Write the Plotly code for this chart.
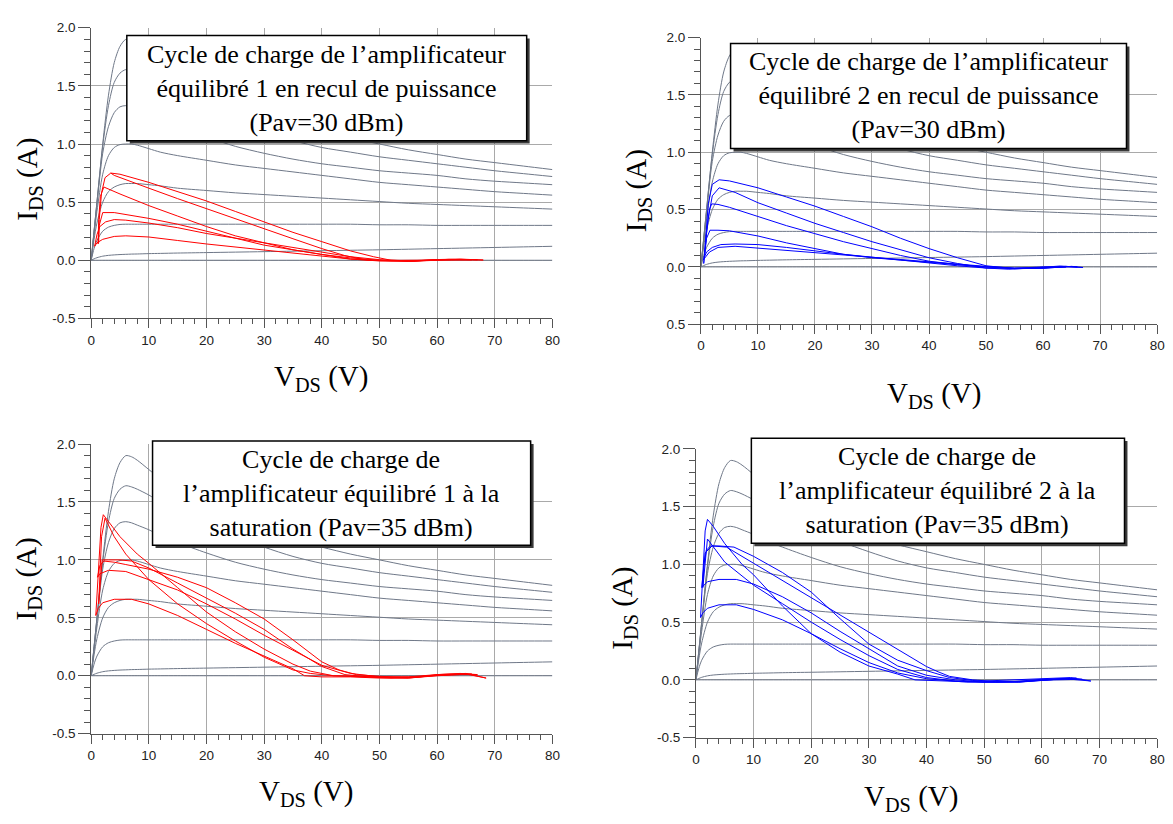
import plotly.graph_objects as go

W, H = 1173, 824
OFF = 8  # default page body margin of the html output

# ---------------- data ----------------
x_ticks = [0, 10, 20, 30, 40, 50, 60, 70, 80]
x_ticktext = ["0", "10", "20", "30", "40", "50", "60", "70", "80"]
y_ticks = [-0.5, 0.0, 0.5, 1.0, 1.5, 2.0]
y_ticktext = ["-0.5", "0.0", "0.5", "1.0", "1.5", "2.0"]
y_ticktext_p2 = ["0.5", "0.0", "0.5", "1.0", "1.5", "2.0"]

# I-V network (gray curves), common to all panels
v_grid = [0, 0.5, 1, 2, 3, 4, 5, 6, 7, 8, 10, 12, 15, 20, 25, 30, 35, 40, 45, 50, 55, 60, 65, 70, 75, 80]
iv_c1 = [0, 0.25, 0.5, 1.0, 1.42, 1.70, 1.84, 1.90, 1.89, 1.86, 1.78, 1.70, 1.60, 1.46, 1.34, 1.24, 1.17, 1.11, 1.05, 1.00, 0.95, 0.91, 0.87, 0.84, 0.81, 0.78]
iv_c2 = [0, 0.25, 0.5, 0.98, 1.33, 1.53, 1.61, 1.64, 1.63, 1.61, 1.56, 1.50, 1.43, 1.31, 1.20, 1.11, 1.03, 0.97, 0.93, 0.89, 0.86, 0.83, 0.80, 0.77, 0.745, 0.72]
iv_c3 = [0, 0.24, 0.48, 0.92, 1.15, 1.27, 1.32, 1.33, 1.32, 1.30, 1.26, 1.21, 1.15, 1.06, 0.98, 0.92, 0.87, 0.83, 0.80, 0.77, 0.75, 0.73, 0.70, 0.68, 0.665, 0.65]
iv_c4 = [0, 0.22, 0.42, 0.74, 0.90, 0.97, 0.995, 1.0, 1.0, 0.99, 0.96, 0.93, 0.90, 0.86, 0.82, 0.79, 0.76, 0.73, 0.70, 0.67, 0.65, 0.63, 0.61, 0.59, 0.575, 0.56]
iv_c5 = [0, 0.18, 0.32, 0.50, 0.59, 0.63, 0.65, 0.66, 0.66, 0.66, 0.65, 0.64, 0.62, 0.60, 0.58, 0.565, 0.55, 0.535, 0.52, 0.505, 0.49, 0.48, 0.47, 0.46, 0.45, 0.44]
iv_c6 = [0, 0.10, 0.17, 0.25, 0.285, 0.30, 0.308, 0.31, 0.31, 0.31, 0.31, 0.31, 0.31, 0.31, 0.31, 0.31, 0.31, 0.31, 0.31, 0.305, 0.305, 0.30, 0.30, 0.30, 0.30, 0.30]
iv_c7 = [0, 0.012, 0.022, 0.035, 0.042, 0.046, 0.049, 0.051, 0.053, 0.054, 0.057, 0.059, 0.062, 0.066, 0.070, 0.074, 0.078, 0.082, 0.086, 0.090, 0.095, 0.100, 0.105, 0.110, 0.115, 0.12]
iv_c8 = [0] * 26

# Panel 1 : amplifier 1, Pav = 30 dBm (red)
p1_v1 = [1.3, 1.4, 1.8, 2.4, 3.4, 5, 10, 15, 20, 25, 30, 35, 40, 45, 49, 52, 56, 60, 64, 68, 64, 60, 56, 52, 48, 44, 40, 35, 30, 25, 20, 15, 10, 6, 4, 3.4]
p1_i1 = [0.15, 0.35, 0.58, 0.71, 0.75, 0.74, 0.67, 0.59, 0.51, 0.42, 0.33, 0.24, 0.16, 0.08, 0.03, 0.0, -0.008, 0.003, 0.008, 0.002, 0.01, 0.006, -0.006, -0.006, 0.0, 0.04, 0.10, 0.185, 0.27, 0.355, 0.44, 0.53, 0.62, 0.69, 0.73, 0.75]
p1_v2 = [1.2, 1.3, 1.6, 2.2, 5, 10, 15, 20, 25, 30, 35, 40, 45, 50, 55, 60, 65, 67, 62, 56, 50, 45, 40, 35, 30, 25, 20, 15, 10, 6, 4, 2, 1.4, 1.2]
p1_i2 = [0.14, 0.35, 0.55, 0.63, 0.57, 0.47, 0.38, 0.29, 0.21, 0.15, 0.09, 0.05, 0.02, 0.0, -0.01, 0.005, 0.008, 0.004, 0.008, -0.008, -0.006, 0.01, 0.05, 0.09, 0.13, 0.19, 0.25, 0.31, 0.36, 0.39, 0.41, 0.41, 0.30, 0.14]
p1_v3 = [0.6, 1.0, 1.5, 2.5, 4, 6, 10, 15, 20, 25, 30, 35, 40, 45, 50, 55, 60, 65, 66, 60, 55, 50, 45, 40, 35, 30, 25, 20, 15, 10, 6, 4, 2, 1, 0.6]
p1_i3 = [0.12, 0.22, 0.29, 0.33, 0.35, 0.345, 0.32, 0.28, 0.23, 0.19, 0.15, 0.11, 0.07, 0.03, 0.005, -0.005, 0.004, 0.006, 0.004, 0.002, -0.004, -0.002, 0.01, 0.035, 0.06, 0.085, 0.11, 0.14, 0.17, 0.20, 0.21, 0.205, 0.18, 0.15, 0.12]

# Panel 2 : amplifier 2, Pav = 30 dBm (blue)
p2_v1 = [0.5, 0.8, 1.3, 2.0, 3.2, 5, 10, 15, 20, 25, 30, 35, 40, 45, 50, 55, 60, 64, 67, 63, 58, 54, 50, 45, 40, 35, 30, 25, 20, 15, 10, 6, 3.2, 2.0, 1.2, 0.5]
p2_i1 = [0.03, 0.25, 0.55, 0.72, 0.76, 0.75, 0.69, 0.61, 0.53, 0.44, 0.35, 0.25, 0.16, 0.08, 0.01, -0.015, -0.01, 0.005, -0.005, 0.008, -0.01, -0.02, -0.01, 0.03, 0.08, 0.15, 0.22, 0.30, 0.38, 0.47, 0.56, 0.65, 0.69, 0.62, 0.40, 0.03]
p2_v2 = [0.6, 1.0, 1.5, 1.9, 3, 5, 10, 15, 20, 25, 30, 35, 40, 45, 50, 55, 60, 65, 66, 60, 55, 50, 45, 40, 35, 30, 25, 20, 15, 10, 5, 3, 1.6, 1.0, 0.6]
p2_i2 = [0.08, 0.30, 0.50, 0.55, 0.545, 0.52, 0.44, 0.36, 0.29, 0.22, 0.16, 0.10, 0.05, 0.02, 0.0, -0.015, -0.012, 0.005, 0.0, 0.0, -0.012, -0.01, 0.01, 0.035, 0.06, 0.08, 0.11, 0.16, 0.21, 0.27, 0.315, 0.32, 0.32, 0.25, 0.08]
p2_v3 = [0.4, 1.0, 2, 3.5, 6, 10, 15, 20, 25, 30, 35, 40, 45, 50, 55, 60, 64, 60, 55, 50, 45, 40, 35, 30, 25, 20, 15, 10, 6, 3, 1.5, 0.4]
p2_i3 = [0.06, 0.13, 0.17, 0.195, 0.20, 0.195, 0.17, 0.14, 0.11, 0.08, 0.06, 0.04, 0.02, 0.0, -0.012, -0.01, 0.0, -0.005, -0.01, 0.005, 0.025, 0.045, 0.065, 0.09, 0.11, 0.13, 0.15, 0.17, 0.18, 0.17, 0.13, 0.06]

# Panel 3 : amplifier 1, Pav = 35 dBm (red)
p3_v1 = [0.8, 1.2, 1.7, 2.1, 3, 5, 8, 10, 15, 20, 25, 30, 35, 38, 42, 46, 50, 55, 60, 65, 68.5, 65, 60, 55, 50, 45, 40, 37, 35, 30, 25, 20, 15, 10, 7, 4, 2, 1.2, 0.8]
p3_i1 = [0.52, 0.9, 1.28, 1.39, 1.33, 1.20, 1.05, 0.97, 0.76, 0.55, 0.38, 0.23, 0.10, 0.04, 0.0, -0.01, -0.015, -0.01, 0.01, 0.02, -0.02, 0.015, 0.005, -0.02, -0.02, -0.01, -0.01, 0.0, 0.06, 0.17, 0.28, 0.40, 0.52, 0.62, 0.66, 0.66, 0.63, 0.58, 0.52]
p3_v2 = [1.1, 1.5, 2.2, 4, 6, 8, 10, 15, 20, 25, 30, 35, 40, 43, 46, 50, 55, 60, 66, 60, 55, 50, 45, 40, 35, 30, 25, 20, 15, 10, 6, 3, 1.5, 1.1]
p3_i2 = [0.85, 0.95, 0.99, 0.98, 0.96, 0.94, 0.92, 0.85, 0.76, 0.63, 0.49, 0.31, 0.12, 0.05, 0.01, -0.005, -0.015, 0.005, 0.015, 0.0, -0.02, -0.01, 0.02, 0.09, 0.22, 0.35, 0.49, 0.62, 0.74, 0.83, 0.90, 0.91, 0.88, 0.85]
p3_v3 = [1.3, 1.6, 1.9, 3, 5, 7, 10, 15, 20, 25, 30, 35, 40, 44, 48, 52, 56, 60, 64, 67, 62, 57, 52, 47, 42, 38, 35, 30, 25, 20, 15, 10, 6, 4, 2.4, 1.8, 1.3]
p3_i3 = [0.62, 0.85, 1.0, 1.0, 1.0, 0.99, 0.93, 0.80, 0.67, 0.54, 0.40, 0.23, 0.08, 0.01, -0.01, -0.02, -0.015, 0.01, 0.02, 0.01, 0.01, -0.01, -0.01, -0.005, 0.0, 0.02, 0.05, 0.16, 0.30, 0.45, 0.62, 0.83, 1.05, 1.2, 1.36, 1.2, 0.62]

# Panel 4 : amplifier 2, Pav = 35 dBm (blue)
p4_v1 = [0.8, 1.2, 1.6, 2.0, 3, 5, 8, 10, 15, 20, 25, 30, 35, 38, 42, 46, 50, 55, 60, 65, 68.5, 64, 58, 52, 47, 42, 40, 35, 30, 25, 20, 15, 10, 7, 4, 2, 1.2, 0.8]
p4_i1 = [0.54, 0.9, 1.29, 1.39, 1.33, 1.18, 1.00, 0.91, 0.64, 0.40, 0.24, 0.12, 0.05, 0.0, -0.01, -0.015, -0.01, 0.0, 0.005, 0.02, -0.01, 0.01, -0.01, -0.02, -0.02, 0.0, 0.01, 0.06, 0.15, 0.27, 0.40, 0.52, 0.61, 0.65, 0.65, 0.62, 0.58, 0.54]
p4_v2 = [1.0, 1.6, 2.8, 5.3, 10, 15, 20, 25, 30, 35, 40, 42, 44, 48, 52, 56, 60, 64, 67, 62, 56, 50, 45, 40, 35, 30, 25, 20, 15, 10, 7, 4, 2, 1.0]
p4_i2 = [0.8, 1.1, 1.16, 1.15, 1.01, 0.86, 0.71, 0.56, 0.41, 0.26, 0.115, 0.07, 0.03, 0.0, -0.015, -0.02, -0.005, 0.01, 0.005, 0.0, -0.015, -0.02, 0.0, 0.04, 0.12, 0.27, 0.42, 0.58, 0.72, 0.83, 0.87, 0.87, 0.85, 0.8]
p4_v3 = [1.2, 1.4, 1.8, 2.5, 4, 6.6, 10, 15, 20, 25, 30, 35, 40, 44, 48, 52, 56, 60, 66, 60, 55, 50, 45, 40, 35, 30, 25, 20, 15, 10, 5, 2, 1.2]
p4_i3 = [0.8, 1.0, 1.12, 1.16, 1.16, 1.15, 1.07, 0.93, 0.76, 0.53, 0.31, 0.17, 0.08, 0.02, -0.005, -0.02, -0.02, 0.0, 0.015, 0.005, -0.015, -0.02, -0.01, 0.02, 0.09, 0.21, 0.35, 0.50, 0.66, 0.82, 1.02, 1.22, 0.8]

box_texts = [
    "Cycle de charge de l\u2019amplificateur<br>équilibré 1 en recul de puissance<br>(Pav=30 dBm)",
    "Cycle de charge de l\u2019amplificateur<br>équilibré 2 en recul de puissance<br>(Pav=30 dBm)",
    "Cycle de charge de<br>l\u2019amplificateur équilibré 1 à la<br>saturation (Pav=35 dBm)",
    "Cycle de charge de<br>l\u2019amplificateur équilibré 2 à la<br>saturation (Pav=35 dBm)",
]

# ---------------- layout geometry (page pixels) ----------------
panels = [
    dict(area=(88, 554, 21, 317), box=(124, 528, 29, 136), yt=(25, 175), xt=(320, 378)),
    dict(area=(704, 1165, 31, 323), box=(734, 1134, 37, 144), yt=(640, 187), xt=(940, 395)),
    dict(area=(88, 554, 445, 740), box=(150, 532, 442, 548), yt=(24, 582), xt=(305, 800)),
    dict(area=(699, 1165, 450, 744), box=(755, 1132, 439, 546), yt=(626, 612), xt=(916, 806)),
]
loops = [
    ([(p1_v1, p1_i1), (p1_v2, p1_i2), (p1_v3, p1_i3)], "#ff0000"),
    ([(p2_v1, p2_i1), (p2_v2, p2_i2), (p2_v3, p2_i3)], "#0000ff"),
    ([(p3_v1, p3_i1), (p3_v2, p3_i2), (p3_v3, p3_i3)], "#ff0000"),
    ([(p4_v1, p4_i1), (p4_v2, p4_i2), (p4_v3, p4_i3)], "#0000ff"),
]
iv_curves = [iv_c1, iv_c2, iv_c3, iv_c4, iv_c5, iv_c6, iv_c7, iv_c8]

GRAY = "#6f7888"
GRID = "#a9a9a9"
AX = "#555555"
SERIF = "Liberation Serif, Times New Roman, serif"

fig = go.Figure()
shapes = []
annotations = []
layout = {}


def px(x):
    return (x - OFF) / W


def py(y):
    return 1 - (y - OFF) / H


for k, pan in enumerate(panels):
    n = k + 1
    xa = "x" if n == 1 else f"x{n}"
    ya = "y" if n == 1 else f"y{n}"
    for c in iv_curves:
        fig.add_trace(go.Scatter(x=v_grid, y=c, mode="lines", xaxis=xa, yaxis=ya,
                                 line=dict(color=GRAY, width=1, shape="spline", smoothing=0.8),
                                 hoverinfo="skip", showlegend=False))
    lp, col = loops[k]
    for v, i in lp:
        fig.add_trace(go.Scatter(x=v, y=i, mode="lines", xaxis=xa, yaxis=ya,
                                 line=dict(color=col, width=1),
                                 hoverinfo="skip", showlegend=False))
    x0, x1, yt, yb = pan["area"]
    xkey = "xaxis" if n == 1 else f"xaxis{n}"
    ykey = "yaxis" if n == 1 else f"yaxis{n}"
    tickfont = dict(family="Liberation Sans, Arial, sans-serif", size=13.5, color="#222222")
    layout[xkey] = dict(
        domain=[px(x0), px(x1)], range=[0, 80], anchor=ya,
        tickmode="array", tickvals=x_ticks, ticktext=x_ticktext,
        ticks="outside", ticklen=9, tickcolor=AX, tickwidth=1,
        showline=True, linecolor=AX, linewidth=1,
        showgrid=True, gridcolor=GRID, gridwidth=1, zeroline=False,
        tickfont=tickfont,
        minor=dict(tickmode="linear", tick0=0, dtick=2, ticks="outside", ticklen=5,
                   tickcolor=AX, showgrid=False),
    )
    layout[ykey] = dict(
        domain=[py(yb), py(yt)], range=[-0.5, 2.0], anchor=xa,
        tickmode="array", tickvals=y_ticks,
        ticktext=(y_ticktext_p2 if n == 2 else y_ticktext),
        ticks="outside", ticklen=12, tickcolor=AX, tickwidth=1,
        showline=True, linecolor=AX, linewidth=1,
        showgrid=True, gridcolor=GRID, gridwidth=1, zeroline=False,
        tickfont=tickfont,
        minor=dict(tickmode="linear", tick0=-0.5, dtick=0.1, ticks="outside", ticklen=6,
                   tickcolor=AX, showgrid=False),
    )
    # annotation box with shadow
    bl, br, bt, bb = pan["box"]
    shapes.append(dict(type="rect", xref="paper", yref="paper",
                       x0=px(bl + 3), x1=px(br + 3), y0=py(bb + 3), y1=py(bt + 3),
                       fillcolor="#3a3a3a", line=dict(width=0)))
    shapes.append(dict(type="rect", xref="paper", yref="paper",
                       x0=px(bl), x1=px(br), y0=py(bb), y1=py(bt),
                       fillcolor="white", line=dict(color="black", width=1.5)))
    annotations.append(dict(x=px((bl + br) / 2), y=py((bt + bb) / 2), xref="paper", yref="paper",
                            text=box_texts[k], showarrow=False, align="center",
                            xanchor="center", yanchor="middle",
                            font=dict(family=SERIF, size=26, color="black")))
    # axis titles
    ytx, yty = pan["yt"]
    annotations.append(dict(x=px(ytx), y=py(yty), xref="paper", yref="paper",
                            text="I<sub>DS</sub> (A)", showarrow=False, textangle=-90,
                            xanchor="center", yanchor="middle",
                            font=dict(family=SERIF, size=29, color="black")))
    xtx, xty = pan["xt"]
    annotations.append(dict(x=px(xtx), y=py(xty), xref="paper", yref="paper",
                            text="V<sub>DS</sub> (V)", showarrow=False,
                            xanchor="center", yanchor="middle",
                            font=dict(family=SERIF, size=29, color="black")))

fig.update_layout(
    width=W, height=H, margin=dict(l=0, r=0, t=0, b=0),
    paper_bgcolor="white", plot_bgcolor="white",
    shapes=shapes, annotations=annotations, **layout,
)

fig.write_html("out.html")
